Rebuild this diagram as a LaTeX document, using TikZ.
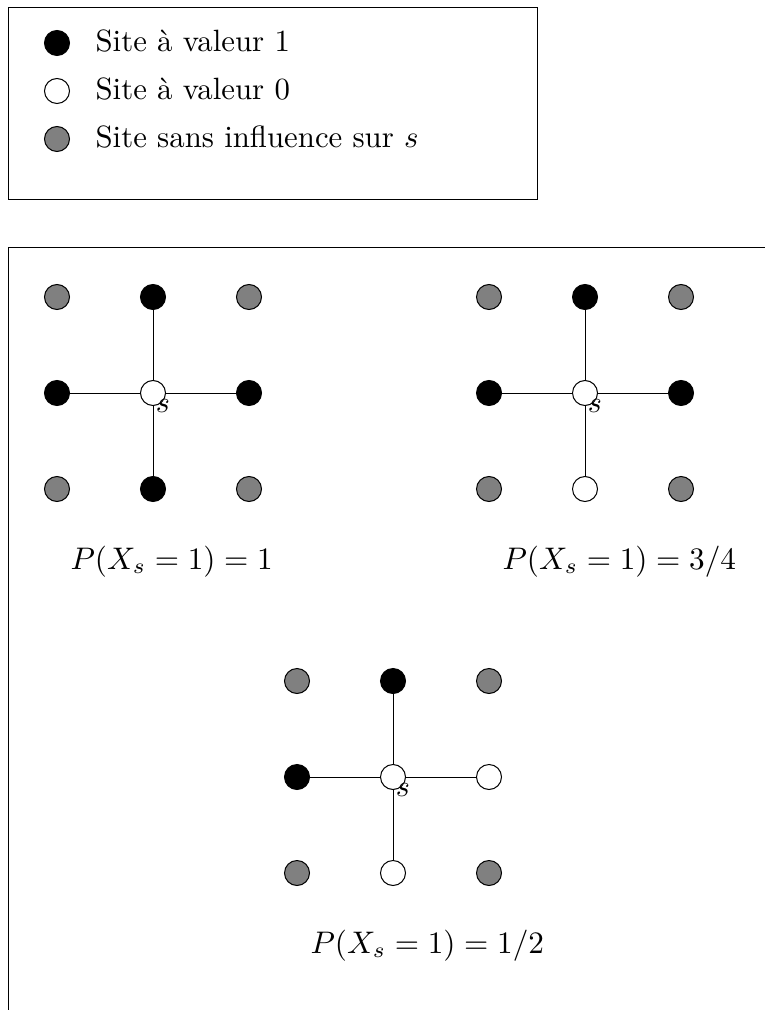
\documentclass[tikz,border=0pt]{standalone}
\begin{document}
\begin{tikzpicture}[x=0.5pt,y=-0.5pt,
  site/.style={circle,draw=black,line width=0.5pt,minimum size=12.5pt,inner sep=0pt},
  one/.style={site,fill=black},
  zero/.style={site,fill=white},
  gray/.style={site,fill=black!50},
  txt/.style={anchor=base west,inner sep=0pt,font=\fontsize{10}{12}\selectfont,scale=1.54},
  plab/.style={anchor=base west,inner sep=0pt,font=\fontsize{10}{12}\selectfont,scale=1.56},
  slab/.style={inner sep=0pt,font=\fontsize{10}{12}\selectfont,scale=1.5},
  edge/.style={line width=0.5pt}]
\useasboundingbox (0,0) rectangle (765,1010);
% legend
\draw[line width=0.5pt] (8,8) rectangle (537,200);
\node[one]  (l1) at (57,43) {};
\node[zero] (l0) at (57,91) {};
\node[gray] (lg) at (57,139) {};
\node[txt] (t1) at (95,52) {Site à valeur 1};
\node[txt] (t0) at (95,100) {Site à valeur 0};
\node[txt] (tg) at (95,148) {Site sans influence sur $s$};
% frame
\draw[line width=0.5pt] (8,1010) -- (8,248) -- (765,248);
% grid macro
\newcommand{\mygrid}[8]{%
  % #1 prefix, #2 x0, #3 y0, #4 N, #5 W, #6 E, #7 S, #8 label
  \begin{scope}[shift={(#2,#3)}]
  \node[gray] (#1nw) at (0,0) {};
  \node[gray] (#1ne) at (192,0) {};
  \node[gray] (#1sw) at (0,192) {};
  \node[gray] (#1se) at (192,192) {};
  \node[#4] (#1n) at (96,0) {};
  \node[#5] (#1w) at (0,96) {};
  \node[#6] (#1e) at (192,96) {};
  \node[#7] (#1s) at (96,192) {};
  \node[zero] (#1c) at (96,96) {};
  \draw[edge] (#1c) -- (#1n);
  \draw[edge] (#1c) -- (#1s);
  \draw[edge] (#1c) -- (#1w);
  \draw[edge] (#1c) -- (#1e);
  \node[slab] (#1sl) at (106,109) {$s$};
  \node[plab] (#1lab) at (13,272) {#8};
  \end{scope}}
\mygrid{a}{57}{297}{one}{one}{one}{one}{$P(X_s=1)=1$}
\mygrid{b}{489}{297}{one}{one}{one}{zero}{$P(X_s=1)=3/4$}
\mygrid{c}{297}{681}{one}{one}{zero}{zero}{$P(X_s=1)=1/2$}
\end{tikzpicture}
\end{document}
